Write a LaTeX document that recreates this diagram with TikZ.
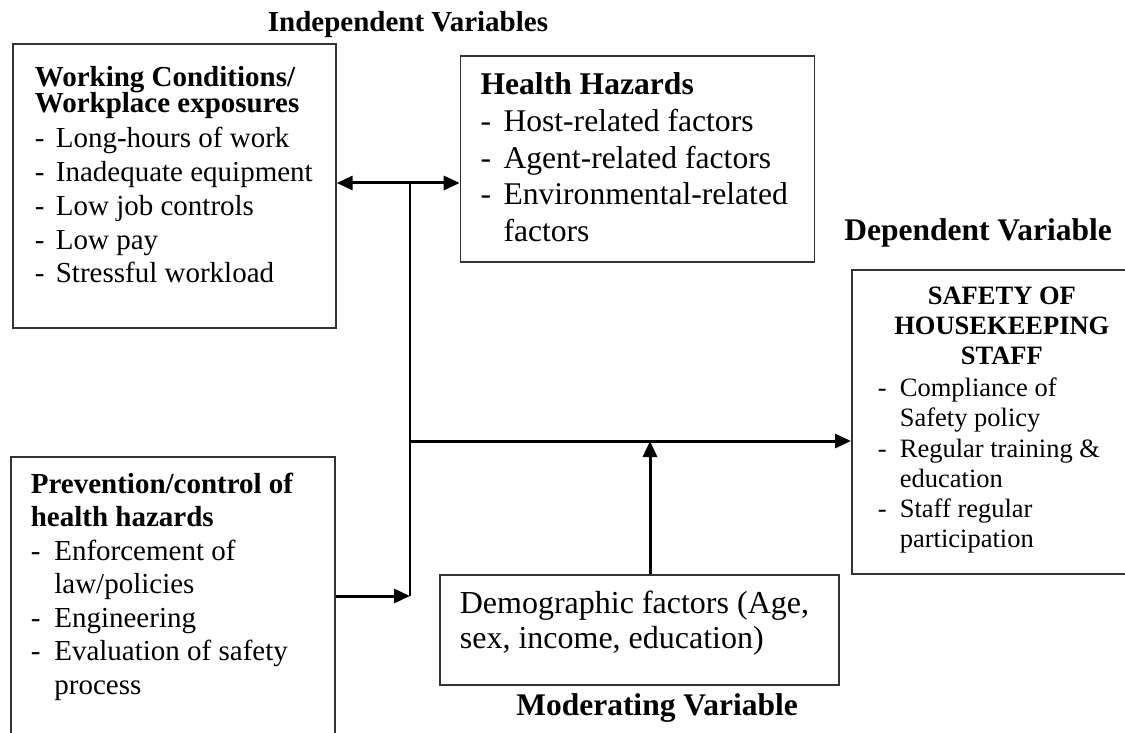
\documentclass[tikz,border=0pt]{standalone}
\usepackage{fontspec}
\setmainfont{Liberation Serif}
\usepackage{tikz}
\usetikzlibrary{positioning,arrows.meta}

% width, height, top skip, left skip, font, lines
\newcommand{\boxbody}[6]{%
    \begin{minipage}[t][#2][t]{#1}#5\raggedright\setlength{\leftskip}{#4}
    \vspace*{#3}\strut #6\end{minipage}}
\newcommand{\itm}[2][21pt]{\makebox[#1][l]{-}#2}

\begin{document}
\begin{tikzpicture}[x=1pt, y=-1pt,
    varbox/.style={draw=black!80, line width=1.7pt, inner sep=0pt, anchor=north west},
    link/.style={line width=3pt, -{Triangle[length=16pt,width=14pt]}},
    title/.style={anchor=base, font=\bfseries\fontsize{31.5}{36}\selectfont}]
    \useasboundingbox (0,0) rectangle (1125,733);

    \node[varbox] (wc) at (12,43) {\boxbody{323pt}{284pt}{19.3pt}{22pt}{\fontsize{29}{33.8}\selectfont}{%
        \textbf{Working Conditions/}\\[-7.8pt]
        \textbf{Workplace exposures}\\[1pt]
        \itm{Long-hours of work}\\
        \itm{Inadequate equipment}\\
        \itm{Low job controls}\\
        \itm{Low pay}\\
        \itm{Stressful workload}}};
    \node[varbox, below right=12pt and 123pt of wc.north east] (hh) {\boxbody{354pt}{206pt}{13.3pt}{20pt}{\fontsize{31.6}{36.7}\selectfont}{%
        \textbf{Health Hazards}\\
        \itm[23pt]{Host-related factors}\\
        \itm[23pt]{Agent-related factors}\\
        \itm[23pt]{Environmental-related}\\
        \hspace*{23pt}factors}};
    \node[varbox] (pc) at (10,456) {\boxbody{324pt}{310pt}{12.85pt}{20pt}{\fontsize{29}{33.5}\selectfont}{%
        \textbf{Prevention/control of}\\
        \textbf{health hazards}\\
        \itm[23.5pt]{Enforcement of}\\
        \hspace*{23.5pt}law/policies\\
        \itm[23.5pt]{Engineering}\\
        \itm[23.5pt]{Evaluation of safety}\\
        \hspace*{23.5pt}process}};
    \node[varbox] (sf) at (851,269) {\boxbody{290pt}{304pt}{13.2pt}{26pt}{\fontsize{26.5}{30.2}\selectfont}{%
        \makebox[248pt][c]{\textbf{SAFETY OF}}\\
        \makebox[248pt][c]{\textbf{HOUSEKEEPING}}\\
        \makebox[248pt][c]{\textbf{STAFF}}\\[2pt]
        \itm[22pt]{Compliance of}\\
        \hspace*{22pt}Safety policy\\
        \itm[22pt]{Regular training \&}\\
        \hspace*{22pt}education\\
        \itm[22pt]{Staff regular}\\
        \hspace*{22pt}participation}};
    \node[varbox] (demo) at (439,574) {\boxbody{399pt}{110pt}{14.5pt}{20pt}{\fontsize{32}{35}\selectfont}{%
        Demographic factors (Age,\\
        sex, income, education)}};

    \node[title, font=\bfseries\fontsize{29}{33}\selectfont] (indep) at (408,32) {Independent Variables};
    \node[title] (dep) at (978,240) {Dependent Variable};
    \node[title] (mod) at (657,715) {Moderating Variable};

    \coordinate (j1) at (410,183);
    \coordinate (j2) at (410,441);
    \coordinate (j3) at (410,596);
    \coordinate (m1) at (650,441);

    \draw[link, {Triangle[length=16pt,width=14pt]}-{Triangle[length=16pt,width=14pt]}] (wc.east |- j1) -- (hh.west |- j1);
    \draw[line width=2.4pt] (j1) -- (j3);
    \draw[link] (pc.east |- j3) -- (j3);
    \draw[link] (j2) -- (sf.west |- j2);
    \draw[link] (demo.north -| m1) -- (m1);
\end{tikzpicture}
\end{document}
